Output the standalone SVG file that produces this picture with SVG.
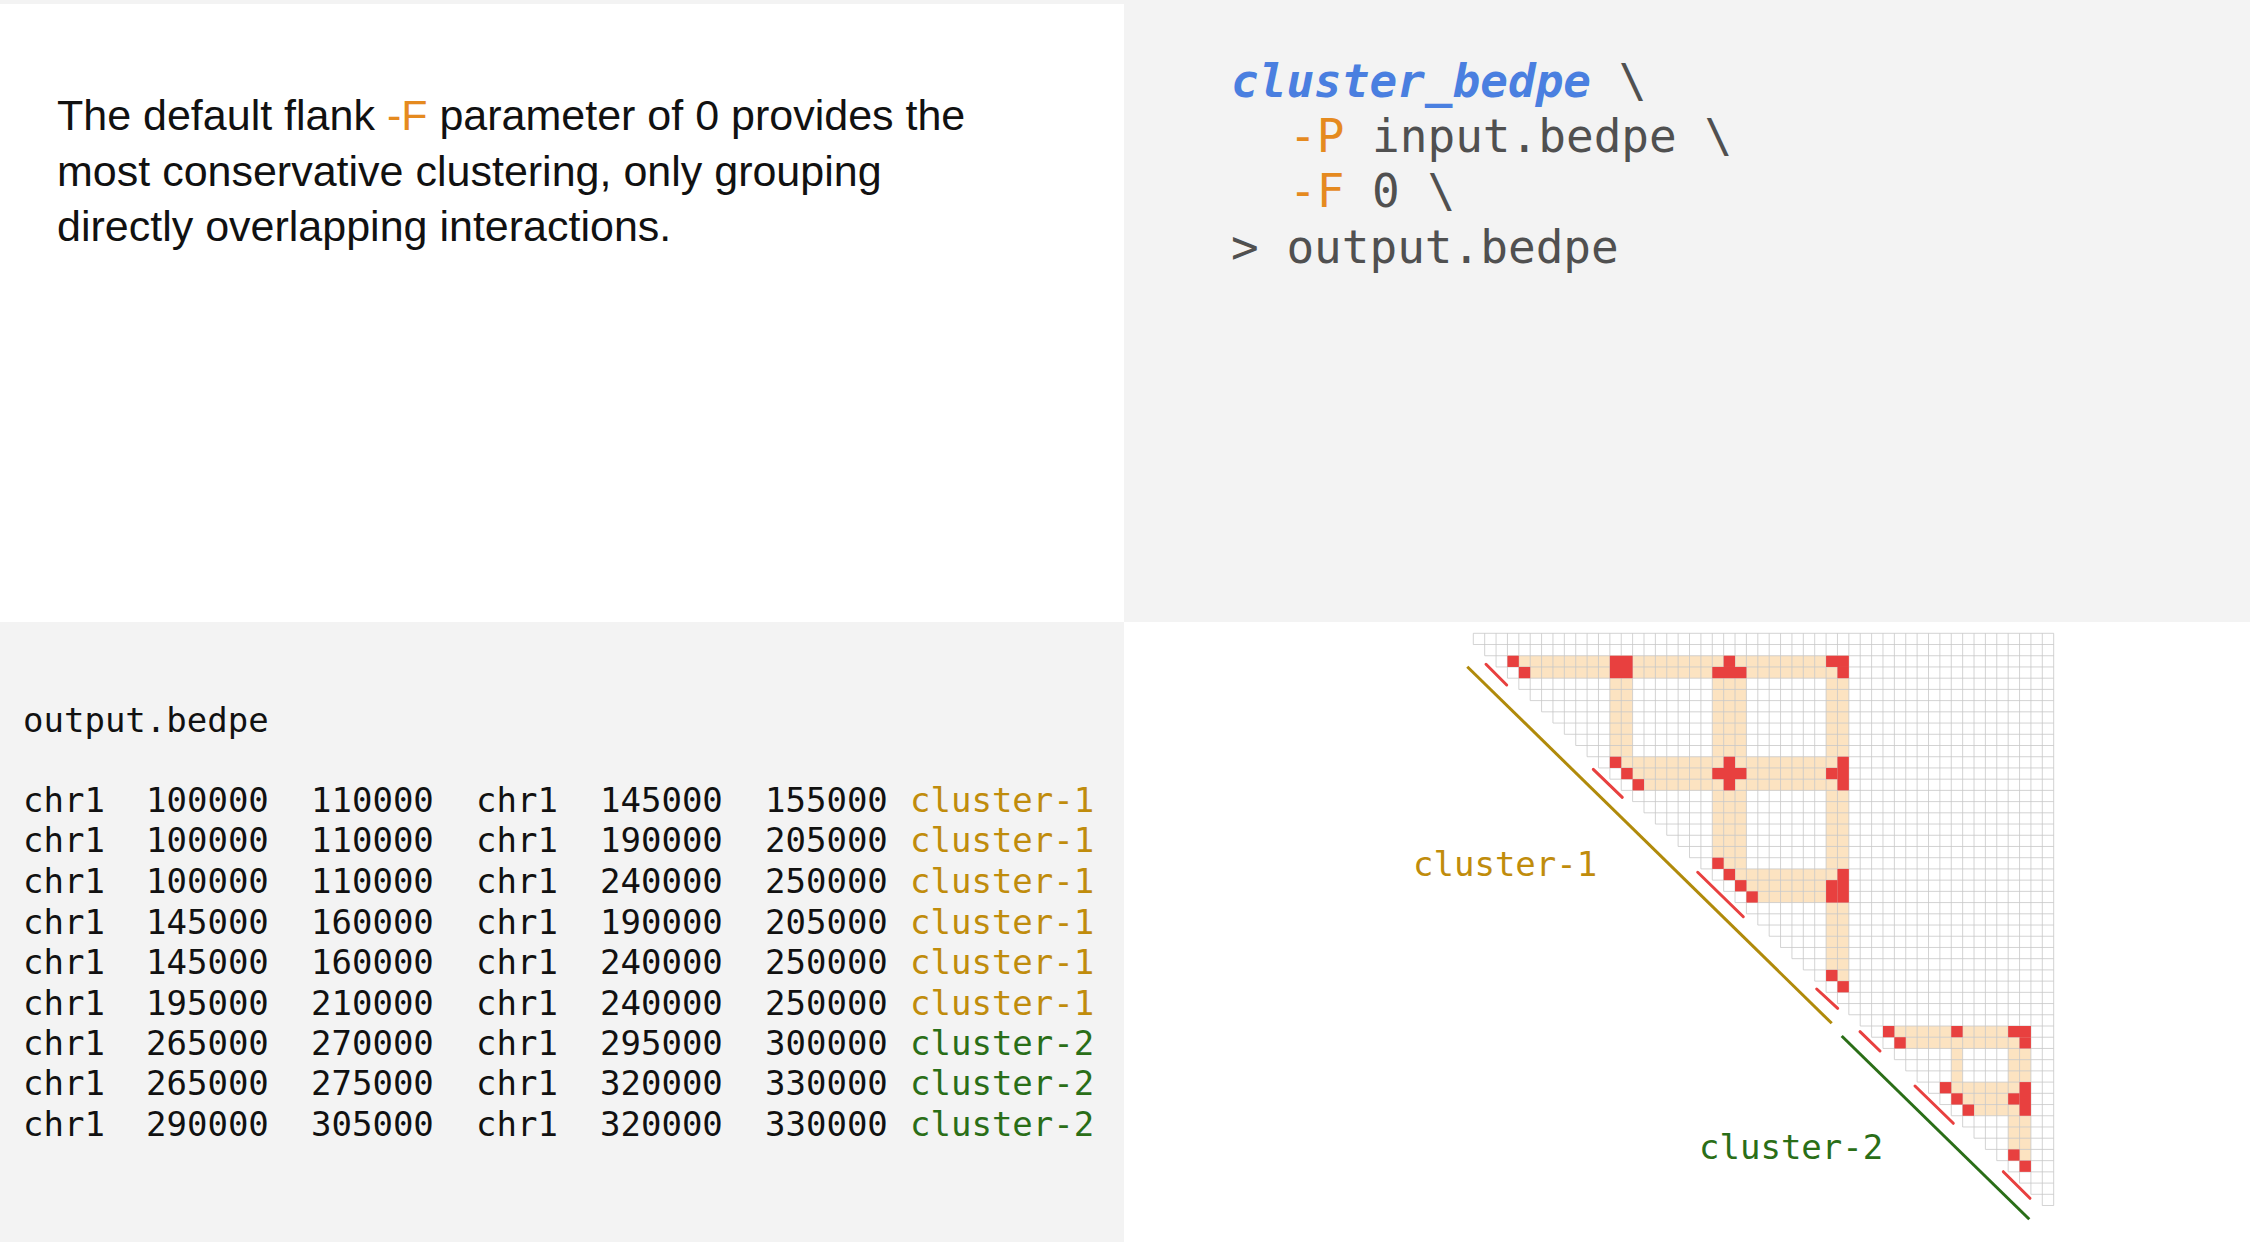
<svg xmlns="http://www.w3.org/2000/svg" width="2250" height="1242" viewBox="0 0 2250 1242">
<style>
.para{font-family:"Liberation Sans",Arial,sans-serif;font-size:43px;fill:#111}
.code{font-family:"DejaVu Sans Mono","Liberation Mono",monospace;font-size:46px;fill:#505050}
.tab{font-family:"DejaVu Sans Mono","Liberation Mono",monospace;font-size:34px;fill:#111}
.c1{fill:#c08c0c}.c2{fill:#2a6e17}.or{fill:#e58a1f}
.beige{fill:#fce3c1}
.red{fill:#e8403f}
.grid{fill:none;stroke:#c8c8c8;stroke-width:0.8}
.dash{stroke:#e8403f;stroke-width:3;stroke-linecap:round}
</style>
<rect x="0" y="0" width="2250" height="1242" fill="#ffffff"/>
<rect x="0" y="0" width="1124" height="4" fill="#f3f3f3"/>
<rect x="1124" y="0" width="1126" height="622" fill="#f3f3f3"/>
<rect x="0" y="622" width="1124" height="620" fill="#f3f3f3"/>

<g id="description">
<text class="para" x="57" y="130">The default flank <tspan class="or">-F</tspan> parameter of 0 provides the</text>
<text class="para" x="57" y="186">most conservative clustering, only grouping</text>
<text class="para" x="57" y="241">directly overlapping interactions.</text>
</g>

<g id="command">
<text class="code" x="1231" y="97"><tspan fill="#4a7fe0" font-weight="bold" font-style="italic">cluster_bedpe</tspan> \</text>
<text class="code" x="1289" y="152"><tspan class="or">-P</tspan> input.bedpe \</text>
<text class="code" x="1289" y="207"><tspan class="or">-F</tspan> 0 \</text>
<text class="code" x="1231" y="263">&gt; output.bedpe</text>
</g>

<g id="output-table" class="tab">
<text x="23" y="732">output.bedpe</text>
<text y="812"><tspan x="23">chr1</tspan><tspan x="146">100000</tspan><tspan x="311">110000</tspan><tspan x="476">chr1</tspan><tspan x="600">145000</tspan><tspan x="765">155000</tspan><tspan x="910" class="c1">cluster-1</tspan></text>
<text y="852"><tspan x="23">chr1</tspan><tspan x="146">100000</tspan><tspan x="311">110000</tspan><tspan x="476">chr1</tspan><tspan x="600">190000</tspan><tspan x="765">205000</tspan><tspan x="910" class="c1">cluster-1</tspan></text>
<text y="893"><tspan x="23">chr1</tspan><tspan x="146">100000</tspan><tspan x="311">110000</tspan><tspan x="476">chr1</tspan><tspan x="600">240000</tspan><tspan x="765">250000</tspan><tspan x="910" class="c1">cluster-1</tspan></text>
<text y="934"><tspan x="23">chr1</tspan><tspan x="146">145000</tspan><tspan x="311">160000</tspan><tspan x="476">chr1</tspan><tspan x="600">190000</tspan><tspan x="765">205000</tspan><tspan x="910" class="c1">cluster-1</tspan></text>
<text y="974"><tspan x="23">chr1</tspan><tspan x="146">145000</tspan><tspan x="311">160000</tspan><tspan x="476">chr1</tspan><tspan x="600">240000</tspan><tspan x="765">250000</tspan><tspan x="910" class="c1">cluster-1</tspan></text>
<text y="1015"><tspan x="23">chr1</tspan><tspan x="146">195000</tspan><tspan x="311">210000</tspan><tspan x="476">chr1</tspan><tspan x="600">240000</tspan><tspan x="765">250000</tspan><tspan x="910" class="c1">cluster-1</tspan></text>
<text y="1055"><tspan x="23">chr1</tspan><tspan x="146">265000</tspan><tspan x="311">270000</tspan><tspan x="476">chr1</tspan><tspan x="600">295000</tspan><tspan x="765">300000</tspan><tspan x="910" class="c2">cluster-2</tspan></text>
<text y="1095"><tspan x="23">chr1</tspan><tspan x="146">265000</tspan><tspan x="311">275000</tspan><tspan x="476">chr1</tspan><tspan x="600">320000</tspan><tspan x="765">330000</tspan><tspan x="910" class="c2">cluster-2</tspan></text>
<text y="1136"><tspan x="23">chr1</tspan><tspan x="146">290000</tspan><tspan x="311">305000</tspan><tspan x="476">chr1</tspan><tspan x="600">320000</tspan><tspan x="765">330000</tspan><tspan x="910" class="c2">cluster-2</tspan></text>
</g>

<g id="matrix" transform="translate(1473.3,633.3) scale(11.38,11.22)">
<g class="beige">
<rect x="3" y="2" width="30" height="1"/><rect x="4" y="3" width="29" height="1"/>
<rect x="12" y="11" width="21" height="1"/><rect x="13" y="12" width="20" height="1"/><rect x="14" y="13" width="19" height="1"/>
<rect x="22" y="21" width="11" height="1"/><rect x="23" y="22" width="10" height="1"/><rect x="24" y="23" width="9" height="1"/>
<rect x="12" y="2" width="2" height="9"/>
<rect x="21" y="2" width="3" height="19"/>
<rect x="31" y="2" width="2" height="29"/>
<rect x="36" y="35" width="13" height="1"/><rect x="37" y="36" width="12" height="1"/>
<rect x="41" y="40" width="8" height="1"/><rect x="42" y="41" width="7" height="1"/><rect x="43" y="42" width="6" height="1"/>
<rect x="42" y="35" width="1" height="5"/>
<rect x="47" y="35" width="2" height="12"/>
</g>
<path class="grid" vector-effect="non-scaling-stroke" d="M0 0H51M0 1H51M1 2H51M2 3H51M3 4H51M4 5H51M5 6H51M6 7H51M7 8H51M8 9H51M9 10H51M10 11H51M11 12H51M12 13H51M13 14H51M14 15H51M15 16H51M16 17H51M17 18H51M18 19H51M19 20H51M20 21H51M21 22H51M22 23H51M23 24H51M24 25H51M25 26H51M26 27H51M27 28H51M28 29H51M29 30H51M30 31H51M31 32H51M32 33H51M33 34H51M34 35H51M35 36H51M36 37H51M37 38H51M38 39H51M39 40H51M40 41H51M41 42H51M42 43H51M43 44H51M44 45H51M45 46H51M46 47H51M47 48H51M48 49H51M49 50H51M50 51H51"/>
<path class="grid" vector-effect="non-scaling-stroke" d="M0 0V1M1 0V2M2 0V3M3 0V4M4 0V5M5 0V6M6 0V7M7 0V8M8 0V9M9 0V10M10 0V11M11 0V12M12 0V13M13 0V14M14 0V15M15 0V16M16 0V17M17 0V18M18 0V19M19 0V20M20 0V21M21 0V22M22 0V23M23 0V24M24 0V25M25 0V26M26 0V27M27 0V28M28 0V29M29 0V30M30 0V31M31 0V32M32 0V33M33 0V34M34 0V35M35 0V36M36 0V37M37 0V38M38 0V39M39 0V40M40 0V41M41 0V42M42 0V43M43 0V44M44 0V45M45 0V46M46 0V47M47 0V48M48 0V49M49 0V50M50 0V51M51 0V51"/>
<g class="red">
<rect x="3" y="2" width="1" height="1"/><rect x="4" y="3" width="1" height="1"/>
<rect x="12" y="11" width="1" height="1"/><rect x="13" y="12" width="1" height="1"/><rect x="14" y="13" width="1" height="1"/>
<rect x="21" y="20" width="1" height="1"/><rect x="22" y="21" width="1" height="1"/><rect x="23" y="22" width="1" height="1"/><rect x="24" y="23" width="1" height="1"/>
<rect x="31" y="30" width="1" height="1"/><rect x="32" y="31" width="1" height="1"/>
<rect x="12" y="2" width="2" height="2"/>
<rect x="22" y="2" width="1" height="1"/><rect x="21" y="3" width="3" height="1"/>
<rect x="22" y="11" width="1" height="3"/><rect x="21" y="12" width="3" height="1"/>
<rect x="31" y="2" width="2" height="1"/><rect x="32" y="3" width="1" height="1"/>
<rect x="32" y="11" width="1" height="3"/><rect x="31" y="12" width="1" height="1"/>
<rect x="32" y="21" width="1" height="3"/><rect x="31" y="22" width="1" height="2"/>
<rect x="36" y="35" width="1" height="1"/><rect x="37" y="36" width="1" height="1"/>
<rect x="41" y="40" width="1" height="1"/><rect x="42" y="41" width="1" height="1"/><rect x="43" y="42" width="1" height="1"/>
<rect x="47" y="46" width="1" height="1"/><rect x="48" y="47" width="1" height="1"/>
<rect x="42" y="35" width="1" height="1"/>
<rect x="47" y="35" width="2" height="1"/><rect x="48" y="36" width="1" height="1"/>
<rect x="48" y="40" width="1" height="3"/><rect x="47" y="41" width="1" height="1"/>
</g>
</g>

<g id="connectors">
<line x1="1467.3" y1="666.7" x2="1831.7" y2="1023.3" stroke="#b08a0a" stroke-width="3"/>
<line x1="1841.7" y1="1036" x2="2029.3" y2="1219.3" stroke="#2a6e17" stroke-width="3"/>
<line class="dash" x1="1486" y1="664.3" x2="1506.7" y2="685"/>
<line class="dash" x1="1593.3" y1="769.3" x2="1622.3" y2="797.3"/>
<line class="dash" x1="1697.7" y1="872.3" x2="1743.3" y2="916.7"/>
<line class="dash" x1="1816.7" y1="989" x2="1837.7" y2="1008.3"/>
<line class="dash" x1="1860" y1="1031.7" x2="1880" y2="1051"/>
<line class="dash" x1="1915" y1="1086" x2="1953.3" y2="1123.3"/>
<line class="dash" x1="2003.3" y1="1171.7" x2="2030" y2="1198.3"/>
</g>

<g id="labels" class="tab">
<text x="1413" y="876" class="c1">cluster-1</text>
<text x="1699" y="1159" class="c2">cluster-2</text>
</g>
</svg>
